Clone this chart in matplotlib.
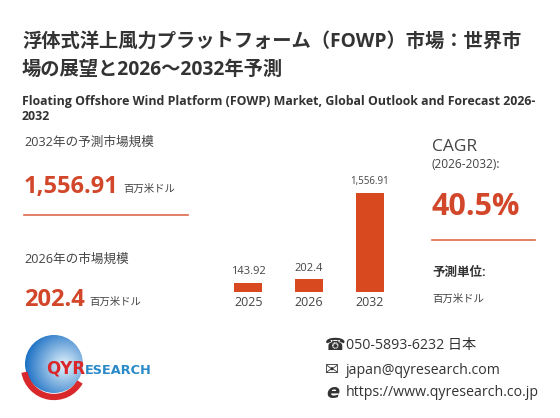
import matplotlib
matplotlib.use("Agg")
import matplotlib.pyplot as plt
import numpy as np
from matplotlib.patches import Circle, Arc

years = ["2025", "2026", "2032"]
values = [143.92, 202.4, 1556.91]
value_labels = ["143.92", "202.4", "1,556.91"]

title_lines = ["浮体式洋上風力プラットフォーム（FOWP）市場：世界市", "場の展望と2026～2032年予測"]
subtitle_lines = ["Floating Offshore Wind Platform (FOWP) Market, Global Outlook and Forecast 2026-", "2032"]
forecast_label = "2032年の予測市場規模"
forecast_value = "1,556.91"
base_label = "2026年の市場規模"
base_value = "202.4"
unit = "百万米ドル"
cagr_title = "CAGR"
cagr_period = "(2026-2032):"
cagr_value = "40.5%"
unit_title = "予測単位:"
phone = "050-5893-6232 日本"
email = "japan@qyresearch.com"
web = "https://www.qyresearch.co.jp"

FAM = ["Open Sans", "Noto Sans CJK JP", "DejaVu Sans"]
plt.rcParams["font.family"] = FAM

RED = "#D2462A"
BAR = "#D9491F"
LINE = "#DC6A4C"
DARK = "#333333"
GRAY = "#444444"

W, H = 560, 418
fig = plt.figure(figsize=(W / 100, H / 100), dpi=100)
fig.patch.set_facecolor("white")

ov = fig.add_axes([0, 0, 1, 1])
ov.set_xlim(0, W)
ov.set_ylim(H, 0)
ov.axis("off")

# Titles
ov.text(22, 42, title_lines[0], fontsize=13.9, fontweight="bold", color=DARK, va="center", ha="left")
ov.text(22, 70, title_lines[1], fontsize=13.9, fontweight="bold", color=DARK, va="center", ha="left")
ov.text(22, 101, subtitle_lines[0], fontsize=8.9, fontweight="bold", color=DARK, va="center", ha="left")
ov.text(22, 116, subtitle_lines[1], fontsize=8.9, fontweight="bold", color=DARK, va="center", ha="left")

# Left panel
ov.text(24, 142, forecast_label, fontsize=9.1, color=GRAY, va="center", ha="left")
ov.text(24, 187, forecast_value, fontsize=17, fontweight="bold", color=RED, va="center", ha="left")
ov.text(123, 189, unit, fontsize=7.5, color=GRAY, va="center", ha="left")
ov.plot([24, 188], [215, 215], color=LINE, lw=1.2)
ov.text(24, 259, base_label, fontsize=9.1, color=GRAY, va="center", ha="left")
ov.text(24, 300, base_value, fontsize=17, fontweight="bold", color=RED, va="center", ha="left")
ov.text(89, 302, unit, fontsize=7.5, color=GRAY, va="center", ha="left")

# Right panel
ov.text(432, 147, cagr_title, fontsize=12.5, color=GRAY, va="center", ha="left")
ov.text(432, 165, cagr_period, fontsize=8.6, color=GRAY, va="center", ha="left")
ov.text(432, 207, cagr_value, fontsize=22, fontweight="bold", color=RED, va="center", ha="left")
ov.plot([432, 535], [240, 240], color=LINE, lw=1.2)
ov.text(432, 272, unit_title, fontsize=9, fontweight="bold", color=DARK, va="center", ha="left")
ov.text(432, 299, unit, fontsize=7.5, color=GRAY, va="center", ha="left")

# Contacts
ov.text(325, 345, "\u260E", fontsize=12, color=DARK, va="center", ha="left", family="DejaVu Sans")
ov.text(346, 345, phone, fontsize=10.2, color=DARK, va="center", ha="left")
ov.text(325, 370, "\u2709", fontsize=12, color=DARK, va="center", ha="left", family="DejaVu Sans")
ov.text(346, 370, email, fontsize=10.2, color=DARK, va="center", ha="left")
ov.text(326, 393, "e", fontsize=14, fontweight="bold", style="italic", color=DARK, va="center", ha="left", family="DejaVu Sans")
ov.text(346, 393, web, fontsize=10.2, color=DARK, va="center", ha="left")

# Logo globe
cx, cy, r = 54, 364, 29
yy, xx = np.mgrid[-1:1:200j, -1:1:200j]
dist = np.sqrt((xx - 0.35) ** 2 + (yy - 0.05) ** 2)
grad = np.clip(dist / 1.4, 0, 1)
c0 = np.array([0.90, 0.96, 0.99])
c1 = np.array([0.08, 0.42, 0.76])
img = c0[None, None, :] * (1 - grad[..., None]) + c1[None, None, :] * grad[..., None]
im = ov.imshow(img, extent=[cx - r, cx + r, cy + r, cy - r], zorder=2)
clip = Circle((cx, cy), r, transform=ov.transData)
im.set_clip_path(clip)
ov.add_patch(Arc((cx, cy + 3), 2 * r + 2, 2 * r + 2, theta1=30, theta2=170, color="#D8282B", lw=4.5, zorder=3))
ov.text(46, 369, "QYR", fontsize=12, fontweight="bold", color="#D8282B", va="center", ha="left", zorder=4,
        family="DejaVu Sans")
ov.text(85, 370, "ESEARCH", fontsize=9.3, fontweight="bold", color="#2A8AC8", va="center", ha="left", zorder=4,
        family="DejaVu Sans")

# Bar chart
x0, x1 = 218, 400
ybase, ytop = 292, 292 - 99 * 1800 / 1556.91
ax = fig.add_axes([x0 / W, (H - ybase) / H, (x1 - x0) / W, (ybase - ytop) / H])
ax.set_xlim(-0.5, 2.5)
ax.set_ylim(0, 1800)
pos = np.arange(len(years))
ax.bar(pos, values, width=0.46, color=BAR)
for p, v, lab in zip(pos, values, value_labels):
    fs = 7 if v > 1000 else 8
    ax.annotate(lab, (p, v), xytext=(0, 4), textcoords="offset points", ha="center", va="bottom", fontsize=fs, color=GRAY)
ax.set_xticks(pos)
ax.set_xticklabels(years)
ax.tick_params(axis="x", length=0, pad=3, labelsize=9, labelcolor=GRAY)
ax.set_yticks([])
for s in ax.spines.values():
    s.set_visible(False)
ax.patch.set_alpha(0)

fig.savefig("out.png", dpi=100, facecolor="white")
